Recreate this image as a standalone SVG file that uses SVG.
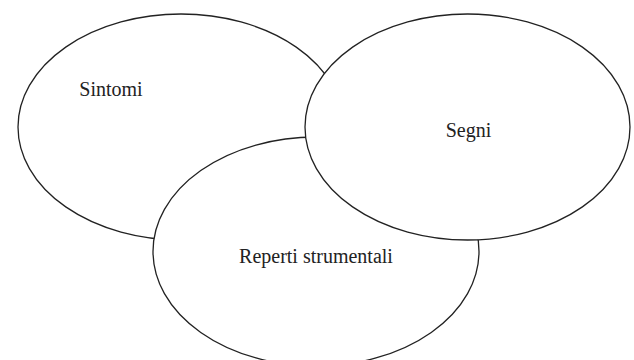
<svg xmlns="http://www.w3.org/2000/svg" width="634" height="360" viewBox="0 0 634 360">
<style>
.e{fill:#fff;stroke:#222;stroke-width:1.3}
.t{font-family:"Liberation Serif","Times New Roman",serif;font-size:20px;fill:#222;text-anchor:middle}
</style>
<rect width="634" height="360" fill="#fff"/>
<g id="sintomi">
<ellipse class="e" cx="181" cy="127" rx="163" ry="113"/>
<text class="t" x="111" y="96">Sintomi</text>
</g>
<g id="reperti">
<ellipse class="e" cx="316" cy="251.5" rx="163" ry="114.5"/>
<text class="t" x="316" y="263">Reperti strumentali</text>
</g>
<g id="segni">
<ellipse class="e" cx="467.5" cy="127" rx="162.5" ry="113"/>
<text class="t" x="468.5" y="137">Segni</text>
</g>
<g id="connectors"></g>
</svg>
